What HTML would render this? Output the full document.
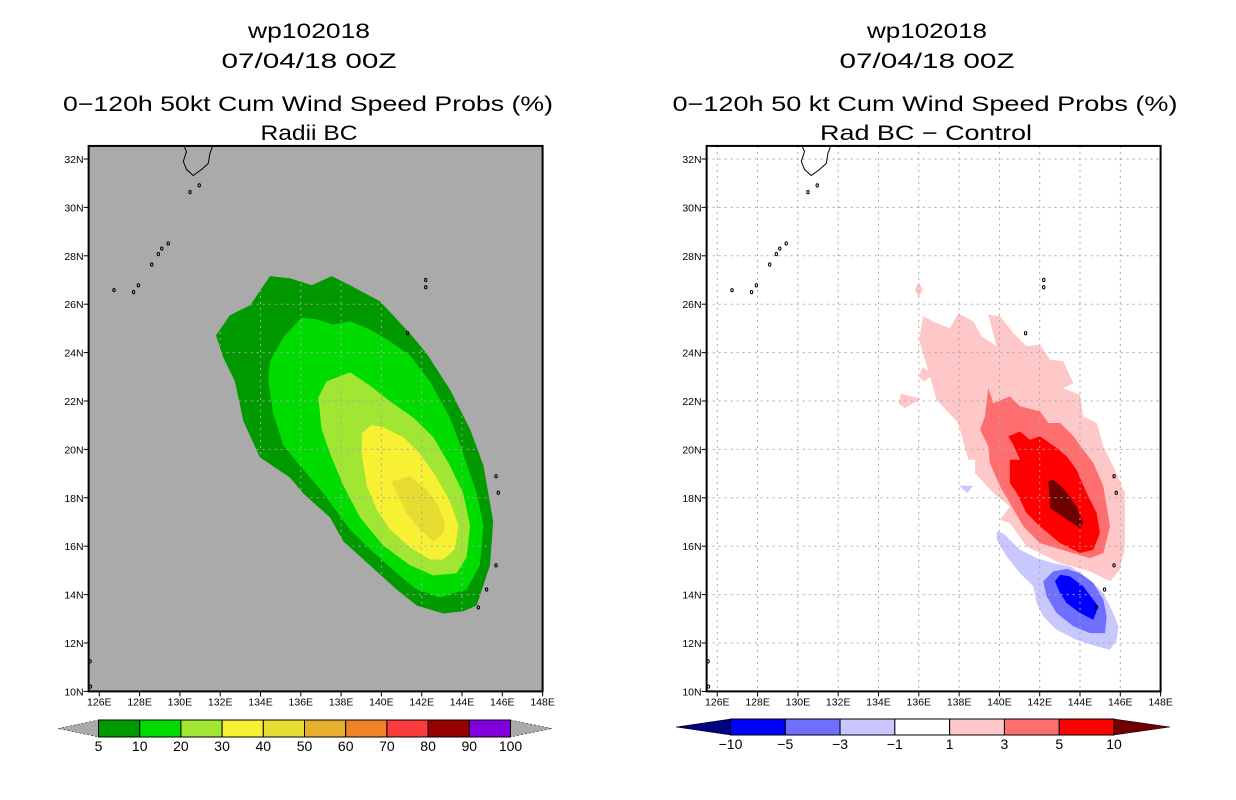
<!DOCTYPE html>
<html><head><meta charset="utf-8"><style>
html,body{margin:0;padding:0;background:#fff;}
svg{display:block;}
text{font-family:"Liberation Sans",sans-serif;fill:#000;}
</style></head><body>
<svg id="chart" width="1236" height="800" viewBox="0 0 1236 800" xmlns="http://www.w3.org/2000/svg">
<g>
<text x="309" y="38" font-size="21" text-anchor="middle" textLength="122" lengthAdjust="spacingAndGlyphs">wp102018</text>
<text x="309" y="68" font-size="21" text-anchor="middle" textLength="175" lengthAdjust="spacingAndGlyphs">07/04/18 00Z</text>
<text x="308" y="111" font-size="21" text-anchor="middle" textLength="490" lengthAdjust="spacingAndGlyphs">0−120h 50kt Cum Wind Speed Probs (%)</text>
<text x="309" y="140" font-size="21" text-anchor="middle" textLength="97" lengthAdjust="spacingAndGlyphs">Radii BC</text>
</g>
<g>
<text x="927" y="38" font-size="21" text-anchor="middle" textLength="120" lengthAdjust="spacingAndGlyphs">wp102018</text>
<text x="927" y="68" font-size="21" text-anchor="middle" textLength="175" lengthAdjust="spacingAndGlyphs">07/04/18 00Z</text>
<text x="925" y="111" font-size="21" text-anchor="middle" textLength="505" lengthAdjust="spacingAndGlyphs">0−120h 50 kt Cum Wind Speed Probs (%)</text>
<text x="926" y="140" font-size="21" text-anchor="middle" textLength="212" lengthAdjust="spacingAndGlyphs">Rad BC − Control</text>
</g>
<g id="leftPanel"></g>
<g id="rightPanel"></g>
<g id="leftBar"></g>
<g id="rightBar"></g>
</svg>
<script>
// ---- data (lon, lat) ----
const lonTicks = [126,128,130,132,134,136,138,140,142,144,146,148];
const latTicks = [10,12,14,16,18,20,22,24,26,28,30,32];
const leftLevels = ["5","10","20","30","40","50","60","70","80","90","100"];
const leftColors = ["#009900","#00dc00","#a0e632","#f8f032","#e6dc32","#e6af2d","#f08228","#fa3c3c","#960000","#8200dc"];
const rightLevels = ["−10","−5","−3","−1","1","3","5","10"];
const rightColors = ["#0000ff","#6e6eff","#c8c8ff","#ffffff","#ffc8c8","#ff6e6e","#ff0000"];

const prob5 = [[131.79,24.71],[132.48,25.54],[133.48,25.95],[134.47,27.16],[135.46,27.07],[136.54,26.78],[137.53,27.16],[138.44,26.78],[139.93,26.12],[141.42,24.79],[142.24,23.97],[143.40,22.48],[144.40,20.83],[145.06,19.34],[145.55,17.02],[145.39,15.21],[144.73,13.55],[144.06,13.31],[143.07,13.22],[141.75,13.55],[140.76,14.21],[139.43,15.21],[138.11,16.20],[137.45,17.19],[136.12,18.18],[135.46,18.84],[133.97,19.67],[133.15,21.16],[132.73,22.81],[132.15,23.80]];
const prob10 = [[134.47,23.64],[135.13,24.63],[136.04,25.45],[136.79,25.37],[137.61,25.16],[138.44,25.29],[139.43,24.96],[140.43,24.46],[141.42,23.88],[142.41,22.81],[143.40,21.32],[144.06,19.83],[144.73,18.18],[145.06,16.86],[144.89,15.21],[144.23,14.21],[142.91,13.88],[141.75,14.21],[140.76,14.88],[139.43,15.87],[138.44,16.69],[137.12,18.18],[136.12,19.17],[135.13,20.17],[134.63,21.49],[134.39,22.81]];
const prob20 = [[136.87,22.15],[137.28,22.81],[138.44,23.19],[139.43,22.64],[140.43,21.98],[141.58,21.32],[142.58,20.50],[143.40,19.34],[144.06,18.18],[144.40,16.86],[144.23,15.54],[143.73,14.88],[142.58,14.79],[141.42,15.21],[140.09,16.03],[138.94,17.19],[138.11,18.51],[137.45,19.83],[137.03,20.83]];
const prob30 = [[139.02,20.66],[139.52,21.02],[140.09,20.91],[141.09,20.50],[141.91,19.83],[142.74,18.84],[143.40,17.85],[143.82,16.86],[143.65,15.87],[143.07,15.45],[142.41,15.45],[141.42,15.95],[140.43,16.69],[139.76,17.52],[139.27,18.51],[139.02,19.83]];
const prob40 = [[140.51,18.68],[141.42,18.89],[142.24,18.35],[142.82,17.69],[143.15,16.94],[143.07,16.53],[142.58,16.20],[141.91,16.69],[141.25,17.36],[140.76,18.18]];

const diff1 = [[136.22,25.50],[136.88,25.22],[137.55,25.01],[137.96,25.63],[138.70,25.29],[139.12,24.67],[139.86,24.26],[139.45,25.56],[140.03,25.50],[140.69,24.81],[141.35,24.26],[142.01,24.33],[142.51,23.71],[143.17,23.64],[143.67,22.74],[143.17,22.53],[144.00,22.26],[144.16,21.36],[144.83,21.09],[145.16,20.12],[145.65,19.30],[146.23,18.20],[146.23,15.99],[145.98,15.03],[145.49,14.55],[144.49,14.96],[143.01,15.30],[141.35,15.99],[140.52,16.96],[140.03,17.09],[140.52,17.64],[139.70,18.20],[138.79,19.02],[138.79,19.57],[138.46,19.57],[137.96,21.09],[136.88,22.05],[136.55,23.02],[136.01,24.53]];
const diff1b = [[136.0,26.9],[136.2,26.6],[136.0,26.3],[135.8,26.6]];
const diff1c = [[135.1,22.3],[136.1,22.1],[135.3,21.7],[135.0,21.9]];
const diff1d = [[136.2,23.4],[136.7,23.1],[136.3,22.8],[136.0,23.0]];
const diff3 = [[139.45,22.53],[139.70,21.91],[140.52,22.19],[141.02,21.78],[142.01,21.57],[142.43,21.09],[143.01,21.09],[143.67,20.54],[144.16,19.99],[144.66,19.44],[145.16,18.47],[145.49,16.82],[145.16,15.72],[144.49,15.51],[143.34,15.79],[142.01,16.13],[141.19,16.82],[140.52,17.78],[140.03,18.47],[139.53,19.44],[139.45,20.12],[139.04,20.81],[139.28,21.36]];
const diff5 = [[140.44,20.54],[141.02,20.74],[141.52,20.40],[142.01,20.54],[142.84,20.06],[143.34,19.71],[143.83,19.16],[144.33,18.20],[144.83,17.37],[144.99,16.54],[144.66,15.85],[144.00,15.72],[143.01,16.13],[142.01,16.82],[141.35,17.37],[140.86,18.20],[140.52,18.61],[140.52,19.57],[141.02,19.57],[140.69,20.19]];
const diff10 = [[142.43,18.68],[142.67,18.75],[143.17,18.40],[143.83,17.64],[144.16,16.96],[144.00,16.75],[143.25,17.16],[142.51,17.58]];
const diffN1 = [[139.86,16.61],[140.19,16.54],[141.02,15.85],[141.85,15.51],[142.67,15.30],[143.50,15.17],[144.49,14.61],[145.16,14.06],[145.65,13.24],[145.90,12.69],[145.82,12.13],[145.49,11.72],[144.83,11.86],[143.83,12.13],[142.84,12.55],[142.18,13.10],[141.85,13.65],[141.68,14.34],[141.02,14.89],[140.36,15.58],[139.86,16.27]];
const diffN1b = [[138.0,18.5],[138.7,18.5],[138.4,18.2]];
const diffN3 = [[142.18,14.55],[142.67,14.96],[143.34,15.06],[144.00,14.89],[144.66,14.48],[145.16,13.79],[145.32,13.10],[145.24,12.41],[144.49,12.41],[143.67,12.69],[142.84,13.24],[142.34,13.93]];
const diffN5 = [[142.76,14.55],[143.01,14.82],[143.50,14.75],[144.16,14.34],[144.66,13.79],[144.91,13.51],[144.66,12.96],[144.00,13.24],[143.34,13.65],[143.01,14.06]];

const kyushu = [[130.17,32.6],[130.33,32.31],[130.17,31.90],[130.33,31.57],[130.66,31.32],[131.08,31.57],[131.41,31.82],[131.49,32.23],[131.66,32.6]];
const islands = [[130.96,30.91],[130.50,30.63],[129.42,28.51],[129.1,28.3],[128.93,28.07],[128.60,27.64],[127.94,26.78],[127.7,26.5],[126.73,26.58],[144.81,13.47],[145.22,14.21],[145.69,15.21],[145.80,18.21],[145.69,18.89],[141.3,24.8],[142.2,27.0],[142.2,26.7],[125.54,11.24],[125.56,10.2]];

// ---- drawing ----
const NS="http://www.w3.org/2000/svg";
const LAT0=10, LATTOP=32.54, LON0=125.47, LON1=148;
const PXLAT=24.2, PXLON=20.15, YB=691.4;
function mk(tag,attrs,parent){const e=document.createElementNS(NS,tag);for(const k in attrs)e.setAttribute(k,attrs[k]);parent.appendChild(e);return e;}
function makePanel(g, x126, bg, layers, gridMask){
  const X=lon=>x126+(lon-126)*PXLON, Y=lat=>YB-(lat-LAT0)*PXLAT;
  const ptsStr=pts=>pts.map(q=>X(q[0]).toFixed(1)+","+Y(q[1]).toFixed(1)).join(" ");
  const bx=X(LON0), by=Y(LATTOP), bw=X(LON1)-bx, bh=YB-by;
  const cp="clip"+Math.round(x126);
  const d=mk("defs",{},g); const c=mk("clipPath",{id:cp},d);
  mk("rect",{x:bx,y:by,width:bw,height:bh},c);
  const gc=mk("clipPath",{id:cp+"g"},d);
  if(gridMask) mk("polygon",{points:ptsStr(gridMask)},gc); else mk("rect",{x:bx,y:by,width:bw,height:bh},gc);
  const bgR=mk("rect",{x:bx,y:by,width:bw,height:bh,fill:bg},g);
  
  
  const cg=mk("g",{"clip-path":`url(#${cp})`},g);
  layers.forEach(([pts,col,name])=>{
    const p=mk("polygon",{points:ptsStr(pts),fill:col},cg);
    
    
  });
  const gg=mk("g",{"clip-path":`url(#${cp}g)`},cg);
  lonTicks.forEach(l=>{ if(l>=148) return;
    const ln=mk("line",{x1:X(l),x2:X(l),y1:by,y2:YB,stroke:"#a8a8a8","stroke-dasharray":"2,4","stroke-width":1},gg);
    
    
  });
  latTicks.forEach(l=>{ if(l<=10) return;
    const ln=mk("line",{x1:bx,x2:bx+bw,y1:Y(l),y2:Y(l),stroke:"#a8a8a8","stroke-dasharray":"2,4","stroke-width":1},gg);
    
    
  });
  const cl=mk("polyline",{points:ptsStr(kyushu),fill:"none",stroke:"#000","stroke-width":1},cg);
  
  
  islands.forEach(q=>{
    const e=mk("ellipse",{cx:X(q[0]),cy:Y(q[1]),rx:1.2,ry:1.6,fill:"none",stroke:"#000","stroke-width":1},cg);
    
    
  });
  const fr=mk("rect",{x:bx,y:by,width:bw,height:bh,fill:"none",stroke:"#000","stroke-width":2},g);
  
  
  latTicks.forEach(l=>{
    mk("line",{x1:bx-5,x2:bx,y1:Y(l),y2:Y(l),stroke:"#000"},g);
    const t=mk("text",{x:bx-5,y:Y(l)+4,"font-size":10.5,"text-anchor":"end"},g);
    t.textContent=l+"N";
    
    
  });
  lonTicks.forEach(l=>{
    mk("line",{x1:X(l),x2:X(l),y1:YB,y2:YB+5,stroke:"#000"},g);
    const t=mk("text",{x:X(l),y:YB+14,"font-size":10.5,"text-anchor":"middle"},g);
    t.textContent=l+"E";
    
    
  });
}
makePanel(document.getElementById("leftPanel"),99.3,"#aaaaaa",[
  [prob5,leftColors[0],"contour-5"],[prob10,leftColors[1],"contour-10"],[prob20,leftColors[2],"contour-20"],[prob30,leftColors[3],"contour-30"],[prob40,leftColors[4],"contour-40"]], prob5);
makePanel(document.getElementById("rightPanel"),717.3,"#ffffff",[
  [diff1,rightColors[4],"contour-pos-1"],[diff1b,rightColors[4],"contour-pos-1"],[diff1c,rightColors[4],"contour-pos-1"],[diff1d,rightColors[4],"contour-pos-1"],
  [diff3,rightColors[5],"contour-pos-3"],[diff5,rightColors[6],"contour-pos-5"],[diff10,"#6e0000","contour-pos-10"],
  [diffN1,rightColors[2],"contour-neg-1"],[diffN1b,rightColors[2],"contour-neg-1"],[diffN3,rightColors[1],"contour-neg-3"],[diffN5,rightColors[0],"contour-neg-5"]], null);

function makeBar(g,x0,x1,tipL,tipR,y0,y1,colors,labels,leftTip,rightTip,ly){
  const n=colors.length, w=(x1-x0)/n, ym=(y0+y1)/2;
  const a=mk("polygon",{points:`${tipL},${ym} ${x0},${y0} ${x0},${y1}`,fill:leftTip,stroke:"#000","stroke-width":0.5,"stroke-dasharray":leftTip==="#aaaaaa"?"2,2":"none"},g);
  
  
  const b=mk("polygon",{points:`${x1},${y0} ${tipR},${ym} ${x1},${y1}`,fill:rightTip,stroke:"#000","stroke-width":0.5,"stroke-dasharray":rightTip==="#aaaaaa"?"2,2":"none"},g);
  
  
  colors.forEach((c,i)=>{
    const r=mk("rect",{x:x0+i*w,y:y0,width:w,height:y1-y0,fill:c,stroke:"#000","stroke-width":1},g);
    
    
  });
  labels.forEach((l,i)=>{
    const t=mk("text",{x:x0+i*w,y:ly,"font-size":14,"text-anchor":"middle"},g);
    t.textContent=l;
    
    
  });
}
makeBar(document.getElementById("leftBar"),98.5,510.5,58,552,720,737,leftColors,leftLevels,"#aaaaaa","#aaaaaa",751);
makeBar(document.getElementById("rightBar"),730.5,1114,676,1170,719,735,rightColors,rightLevels,"#000080","#6e0000",749);
</script>
</body></html>
